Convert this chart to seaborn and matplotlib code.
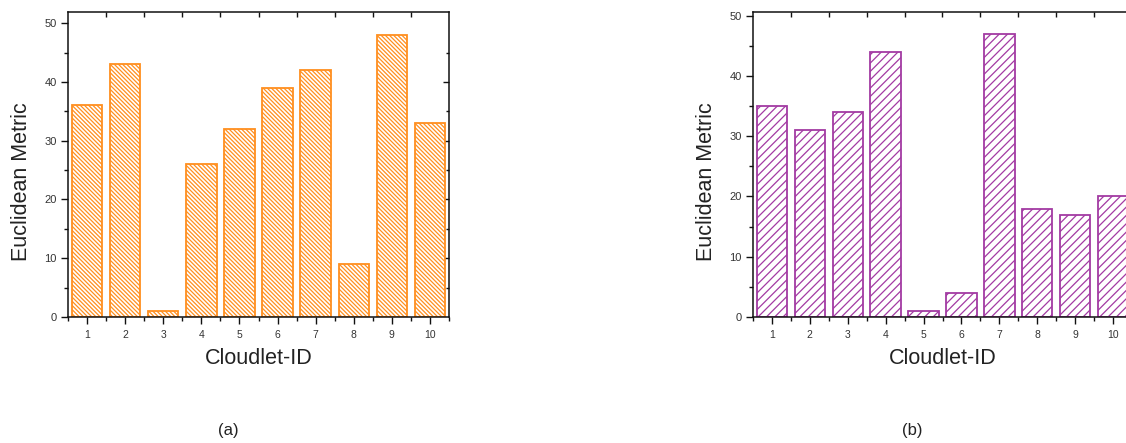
import numpy as np
import pandas as pd
import matplotlib
matplotlib.use("Agg")
import matplotlib.pyplot as plt
import seaborn as sns

cloudlet_ids = ["1", "2", "3", "4", "5", "6", "7", "8", "9", "10"]
metric_a = [36, 43, 1, 26, 32, 39, 42, 9, 48, 33]
metric_b = [35, 31, 34, 44, 1, 4, 47, 18, 17, 20]
ytick_vals = [0, 10, 20, 30, 40, 50]
panel_labels = ["(a)", "(b)"]
xlabel_text = "Cloudlet-ID"
ylabel_text = "Euclidean Metric"

sns.set_theme(style="white")
plt.rcParams["font.family"] = ["Liberation Sans", "DejaVu Sans"]
plt.rcParams["hatch.linewidth"] = 0.9

W, H = 1126, 443
fig = plt.figure(figsize=(W / 100, H / 100), dpi=100)
ax1 = fig.add_axes([68 / W, 126 / H, 381 / W, 305 / H])
ax2 = fig.add_axes([753 / W, 126 / H, 379 / W, 305 / H])

specs = [
    (ax1, metric_a, "#FF8F1F", "\\" * 8, 51.9, 228),
    (ax2, metric_b, "#A33AA3", "/" * 4, 50.6, 912),
]

txt = "#222222"
for ax, vals, col, hatch, ytop, lab_x in specs:
    df = pd.DataFrame({"id": cloudlet_ids, "v": vals})
    sns.barplot(data=df, x="id", y="v", order=cloudlet_ids, ax=ax,
                color="white", saturation=1, edgecolor=col, hatch=hatch,
                linewidth=1.3, width=0.8)
    ax.set_xlim(-0.5, 9.5)
    ax.set_ylim(0, ytop)
    for s in ax.spines.values():
        s.set_visible(True)
        s.set_color("#111111")
        s.set_linewidth(1.1)
    ax.set_yticks(ytick_vals)
    ax.set_yticks(np.arange(5, 50, 10), minor=True)
    ax.set_xticks(np.arange(-0.5, 10, 1.0), minor=True)
    ax.tick_params(axis="both", which="major", direction="out", length=5,
                   width=1.0, color="#111111", labelcolor="#333333")
    ax.tick_params(axis="both", which="minor", direction="out", length=3,
                   width=1.0, color="#111111", bottom=True, left=True)
    ax.tick_params(axis="x", which="major", labelsize=7.5, pad=4, bottom=True)
    ax.tick_params(axis="y", which="major", labelsize=8, pad=3, left=True)
    ax.set_xlabel(xlabel_text, fontsize=15.5, color=txt)
    ax.set_ylabel(ylabel_text, fontsize=15.5, color=txt)
    ax.xaxis.set_label_coords(0.5, -0.1)
    ax.yaxis.set_label_coords(-0.095, 0.443)

    top = ax.secondary_xaxis("top")
    top.set_xticks(np.arange(0.5, 9, 1.0))
    top.tick_params(direction="in", length=3.5, width=1.0, color="#111111",
                    labeltop=False)
    top.spines["top"].set_visible(False)
    right = ax.secondary_yaxis("right")
    right.set_yticks([10, 20, 30, 40])
    right.set_yticks(np.arange(5, 50, 10), minor=True)
    right.tick_params(which="major", direction="in", length=4, width=1.0,
                      color="#111111", labelright=False)
    right.tick_params(which="minor", direction="in", length=2.5, width=1.0,
                      color="#111111")
    right.spines["right"].set_visible(False)

    fig.text(lab_x / W, 1 - 430 / H, panel_labels[0 if ax is ax1 else 1],
             ha="center", va="center", fontsize=12, color=txt)

fig.savefig("out.png", dpi=100)
